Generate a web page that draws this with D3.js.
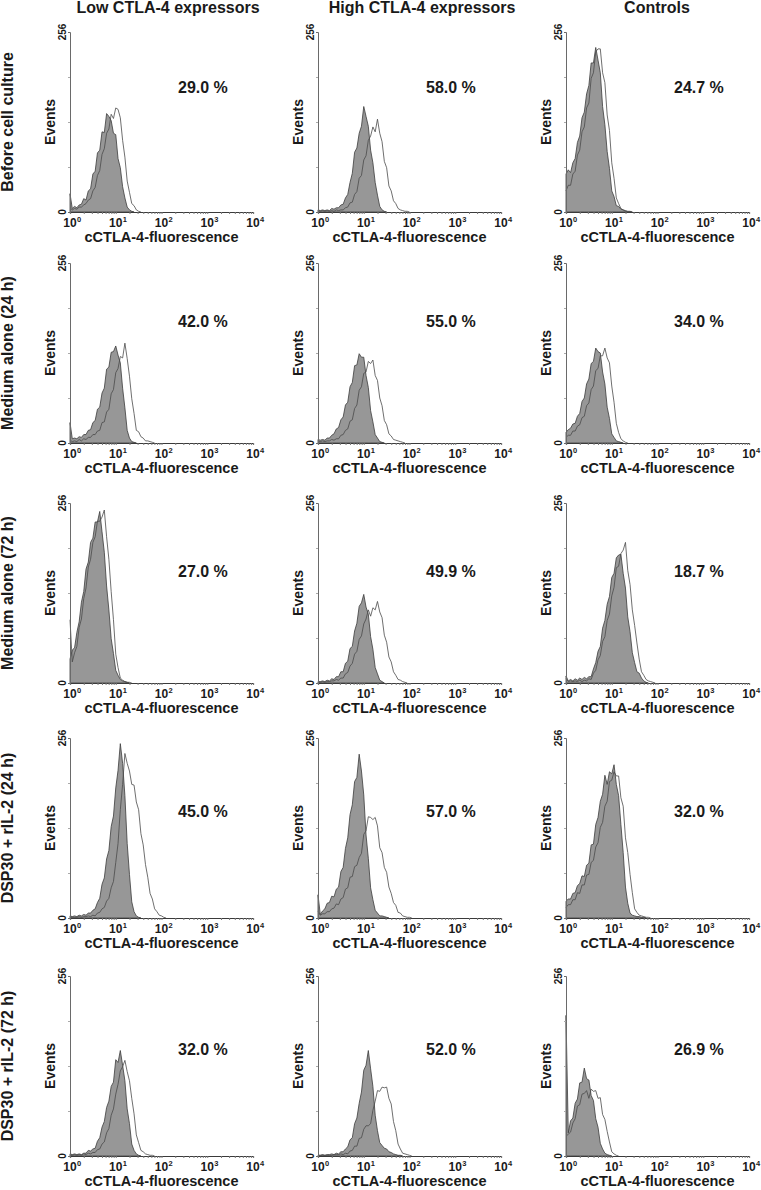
<!DOCTYPE html>
<html><head><meta charset="utf-8">
<script src="https://cdn.jsdelivr.net/npm/d3@7"></script>
<style>
body{margin:0;background:#fff}
svg{display:block}
text{font-family:Arial,"Liberation Sans",sans-serif;font-weight:bold;fill:#1a1a1a}
</style>
</head><body>
<svg id="chart" width="761" height="1190"></svg>
<script>
// ---- data ----
const colLabels = ["Low CTLA-4 expressors", "High CTLA-4 expressors", "Controls"];
const rowLabels = ["Before cell culture", "Medium alone (24 h)", "Medium alone (72 h)", "DSP30 + rIL-2 (24 h)", "DSP30 + rIL-2 (72 h)"];
const percentRow1 = ["29.0 %", "58.0 %", "24.7 %"];
const percentRow2 = ["42.0 %", "55.0 %", "34.0 %"];
const percentRow3 = ["27.0 %", "49.9 %", "18.7 %"];
const percentRow4 = ["45.0 %", "57.0 %", "32.0 %"];
const percentRow5 = ["32.0 %", "52.0 %", "26.9 %"];
const xTickExponents = [0, 1, 2, 3, 4];
const yTickLabels = [0, 256];
const xAxisTitle = "cCTLA-4-fluorescence";
const yAxisTitle = "Events";
// log10 fluorescence of each histogram channel group
const logChannel = [0,0.05,0.1,0.15,0.2,0.25,0.3,0.35,0.4,0.45,0.5,0.55,0.6,0.65,0.7,0.75,0.8,0.85,0.9,0.95,1,1.05,1.1,1.15,1.2,1.25,1.3,1.35,1.4,1.45,1.5,1.55,1.6,1.65,1.7,1.75,1.8,1.85,1.9,1.95,2,2.05,2.1];
// filled (isotype) and open (CTLA-4) histograms, counts per channel
const beforeLowFill   = [26,5,8,6,10,11,19,17,30,33,54,58,84,88,114,113,140,136,130,112,110,76,63,36,20,7,3,1,0];
const beforeLowOpen   = [6,3,5,4,7,7,10,12,17,19,30,35,52,59,82,90,112,118,139,133,148,146,134,102,78,44,28,12,9,3,1,0];
const beforeHighFill  = [3,2,3,2,3,2,5,4,6,6,10,11,20,25,42,55,85,91,112,122,150,136,122,88,70,42,24,8,3,1,0];
const beforeHighOpen  = [2,1,2,1,2,1,2,1,3,2,3,3,6,7,13,14,25,29,48,52,74,80,102,108,121,114,132,112,100,72,63,37,30,16,12,5,3,2,1,1,0];
const beforeCtrlFill  = [54,60,56,70,76,99,108,134,142,168,180,212,212,234,216,198,150,124,86,62,30,22,9,8,4,3,2,1,1,0];
const beforeCtrlOpen  = [30,38,38,54,58,81,88,114,121,148,155,190,198,228,232,232,198,184,138,116,70,48,20,12,5,3,1,0];
const med24LowFill    = [29,6,7,6,9,8,12,12,18,19,29,32,48,51,71,78,105,108,129,130,138,125,114,78,50,18,7,2,1,0];
const med24LowOpen    = [4,2,3,2,5,3,6,5,8,8,12,12,17,18,29,30,44,48,70,76,100,106,123,121,142,120,95,63,42,18,16,9,7,3,3,2,1,0];
const med24HighFill   = [5,4,5,4,7,7,11,13,20,22,33,37,54,58,80,86,110,111,127,122,122,96,79,46,30,12,7,2,1,0];
const med24HighOpen   = [2,2,3,2,3,3,5,4,6,6,11,12,18,20,31,33,49,54,75,80,99,101,116,113,118,96,89,64,53,32,26,13,10,5,4,3,2,1,0];
const med24CtrlFill   = [15,19,21,27,28,38,42,59,64,84,91,113,116,135,130,128,101,84,51,35,13,8,3,2,1,0];
const med24CtrlOpen   = [8,11,11,17,17,24,26,36,38,53,57,76,81,103,106,124,124,135,121,114,81,58,28,15,6,3,1,0];
const med72LowFill    = [34,47,50,72,87,115,130,162,172,200,206,229,229,244,215,186,138,104,63,42,18,11,5,3,2,1,0];
const med72LowOpen    = [90,30,43,52,79,91,120,135,165,176,200,208,230,230,236,246,208,176,130,90,41,22,7,4,2,1,1,0];
const med72HighFill   = [2,2,3,2,4,3,6,5,9,9,16,16,28,31,49,52,74,85,109,114,126,108,98,66,48,22,13,4,2,0];
const med72HighOpen   = [1,1,2,1,2,2,3,3,5,4,7,7,13,15,24,28,41,45,62,67,84,91,104,95,107,104,116,101,93,68,58,37,30,16,11,5,4,2,1,0];
const med72CtrlFill   = [10,3,5,3,6,4,7,5,8,6,9,9,20,29,45,52,78,89,112,123,150,156,178,182,183,156,135,94,73,43,29,16,14,7,3,1,0];
const med72CtrlOpen   = [6,2,3,2,3,2,4,2,4,3,6,5,14,18,33,39,59,66,89,98,124,136,164,166,184,189,200,160,140,104,82,57,34,16,11,5,3,2,1,0];
const dsp24LowFill    = [3,2,3,2,4,3,5,4,7,7,11,13,22,28,48,57,84,96,130,145,185,210,248,220,174,106,62,23,9,3,1,0];
const dsp24LowOpen    = [1,1,1,1,2,1,2,2,3,2,4,3,7,8,13,15,24,28,43,52,79,106,154,190,234,220,209,190,189,165,154,120,104,76,58,35,27,13,9,4,3,1,0];
const dsp24HighFill   = [33,5,10,13,21,22,31,30,41,44,66,72,99,114,147,161,194,200,233,209,175,118,85,43,26,11,7,3,3,2,1,0];
const dsp24HighOpen   = [10,4,6,6,9,9,13,14,20,19,27,29,41,43,58,59,73,75,86,92,119,124,144,143,140,143,131,100,93,72,65,44,35,22,18,8,7,3,2,1,1,0];
const dsp24CtrlFill   = [24,27,27,35,36,46,49,60,59,75,78,104,105,133,143,166,176,203,190,208,205,218,190,174,133,93,44,21,7,4,3,2,2,1,1,0];
const dsp24CtrlOpen   = [15,19,19,26,26,36,35,47,47,61,62,79,82,101,107,129,136,159,166,194,196,208,202,202,171,159,114,93,62,36,13,8,4,3,2,1,1,0];
const dsp72LowFill    = [3,2,3,2,3,2,4,4,8,7,10,11,21,26,41,49,69,78,99,105,137,133,150,129,107,67,46,17,8,3,1,0];
const dsp72LowOpen    = [1,1,2,1,2,1,3,2,4,3,5,5,9,10,17,20,33,39,58,67,88,102,121,127,136,120,107,82,60,30,19,8,6,3,2,1,1,0];
const dsp72HighFill   = [1,1,2,1,2,2,3,2,4,3,6,6,10,13,23,26,46,54,75,91,122,129,150,124,99,58,36,19,15,11,10,6,5,3,2,1,1,0];
const dsp72HighOpen   = [1,1,1,1,1,1,1,2,2,2,3,2,4,3,7,8,14,14,25,26,38,43,43,46,65,78,93,92,98,97,98,82,74,49,36,17,10,4,3,2,1,0];
const dsp72CtrlFill   = [200,33,50,54,75,81,104,105,125,110,108,86,79,53,41,18,10,4,2,1,0];
const dsp72CtrlOpen   = [28,31,34,47,53,71,73,88,89,93,82,95,92,93,82,83,59,52,35,20,6,3,1,0];

// table built from the arrays above
const percents = [percentRow1, percentRow2, percentRow3, percentRow4, percentRow5];
const fills = [
  [beforeLowFill, beforeHighFill, beforeCtrlFill],
  [med24LowFill, med24HighFill, med24CtrlFill],
  [med72LowFill, med72HighFill, med72CtrlFill],
  [dsp24LowFill, dsp24HighFill, dsp24CtrlFill],
  [dsp72LowFill, dsp72HighFill, dsp72CtrlFill]];
const opens = [
  [beforeLowOpen, beforeHighOpen, beforeCtrlOpen],
  [med24LowOpen, med24HighOpen, med24CtrlOpen],
  [med72LowOpen, med72HighOpen, med72CtrlOpen],
  [dsp24LowOpen, dsp24HighOpen, dsp24CtrlOpen],
  [dsp72LowOpen, dsp72HighOpen, dsp72CtrlOpen]];

// ---- layout ----
const colX = [70, 318, 566];
const rowTop = [32, 263, 503, 738, 976];
const plotW = 183, plotH = 180;
const colTitleX = [168, 422, 657];
const pctDy = [61, 64, 74, 79, 79];

const svg = d3.select("#chart");
const x = d3.scaleLog().domain([1, 10000]).range([0, plotW]);
const y = d3.scaleLinear().domain([0, 256]).range([plotH, 0]);
const toPts = arr => arr.map((v, i) => [Math.pow(10, logChannel[i]), v]);
const area = d3.area().x(d => x(d[0])).y0(plotH).y1(d => y(d[1]));
const line = d3.line().x(d => x(d[0])).y(d => y(d[1]));

colLabels.forEach((t, c) => {
  svg.append("text").attr("x", colTitleX[c]).attr("y", 13)
    .attr("text-anchor", "middle").style("font-size", "16px").text(t);
});
rowLabels.forEach((t, r) => {
  svg.append("text")
    .attr("transform", `translate(13,${rowTop[r] + plotH / 2}) rotate(-90)`)
    .attr("text-anchor", "middle").style("font-size", "16px").text(t);
});

for (let r = 0; r < 5; r++) {
  for (let c = 0; c < 3; c++) {
    const g = svg.append("g").attr("transform", `translate(${colX[c]},${rowTop[r]})`);
    // histograms
    g.append("path").datum(toPts(fills[r][c])).attr("d", area)
      .attr("fill", "#979797").attr("stroke", "#3c3c3c").attr("stroke-width", 0.8)
      .attr("stroke-linejoin", "round");
    g.append("path").datum(toPts(opens[r][c])).attr("d", line)
      .attr("fill", "none").attr("stroke", "#4a4a4a").attr("stroke-width", 0.8)
      .attr("stroke-linejoin", "round");
    // x axis
    const xa = g.append("g").attr("transform", `translate(0,${plotH})`)
      .call(d3.axisBottom(x).tickSize(2).tickFormat(""));
    xa.select(".domain").attr("stroke", "#3a3a3a").attr("stroke-width", 1.2);
    xa.selectAll(".tick line").attr("stroke", "#777");
    xTickExponents.forEach(e => {
      const tx = x(Math.pow(10, e));
      g.append("text").attr("x", tx).attr("y", plotH + 15)
        .attr("text-anchor", "middle").style("font-size", "12px").text("10");
      g.append("text").attr("x", tx + 7).attr("y", plotH + 9.5)
        .style("font-size", "7.5px").text(e);
    });
    g.append("text").attr("x", plotW / 2).attr("y", plotH + 30)
      .attr("text-anchor", "middle").style("font-size", "14.5px").text(xAxisTitle);
    // y axis
    const ya = g.append("g").call(d3.axisLeft(y).tickValues([64, 128, 192]).tickSize(2).tickFormat(""));
    ya.select(".domain").attr("stroke", "#6a6a6a").attr("stroke-width", 1);
    ya.selectAll(".tick line").attr("stroke", "#aaa");
    yTickLabels.forEach(v => {
      g.append("text").attr("transform", `translate(-4,${y(v)}) rotate(-90)`)
        .attr("text-anchor", "middle").style("font-size", "10px").text(v);
    });
    g.append("text").attr("transform", `translate(-15,${plotH / 2}) rotate(-90)`)
      .attr("text-anchor", "middle").style("font-size", "14px").text(yAxisTitle);
    // percentage
    g.append("text").attr("x", 108).attr("y", pctDy[r])
      .style("font-size", "16px").text(percents[r][c]);
  }
}
</script>
</body></html>
